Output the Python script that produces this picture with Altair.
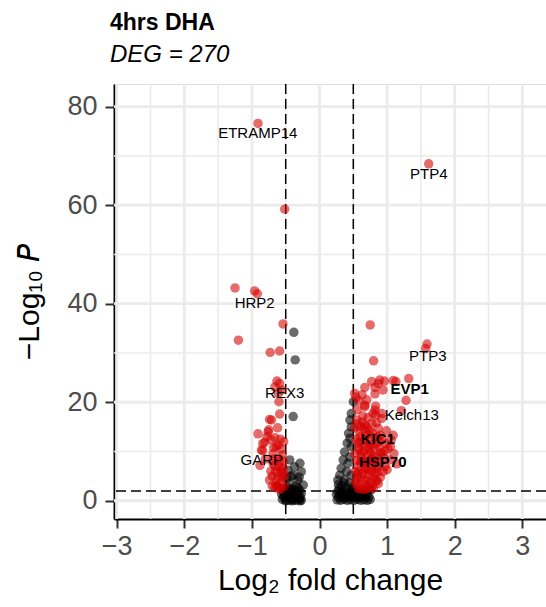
import altair as alt
import pandas as pd

# ---------------- data ----------------
# significant (red) genes: log2 fold change, -log10 P
sig_x = [
    -0.91, -0.515, -1.25, -0.96, -0.92, -0.54, -1.20, -0.73, -0.59, -0.63,
    -0.59, -0.66, -0.61, -0.60, -0.56, -0.59, -0.71, -0.74, -0.75, -0.91,
    -0.76, -0.78, -0.66, -0.81, -0.64, -0.84, -0.69, -0.61, -0.69, -0.60,
    -0.65, -0.56, -0.74, -0.63, -0.58, -0.66, -0.55, -0.54, -0.59, -0.72,
    -0.57, -0.53, -0.52, -0.70, -0.62, -0.57, -0.52, -0.55, -0.53, -0.68,
    -0.88, -0.84, -0.64, -0.61, -0.86,
    -0.58, -0.62, -0.68, -0.57, -0.62, -0.70, -0.60, -0.66, -0.72, -0.80,
    1.615, 0.75, 1.59, 1.57, 0.80, 1.32, 0.96, 0.77, 1.13, 0.89,
    1.09, 0.67, 0.82, 0.87, 0.94, 0.82, 1.28, 0.54, 0.52, 0.67,
    0.83, 1.21, 0.79, 0.92, 0.92, 0.83, 0.67, 0.82, 0.55, 0.67,
    0.77, 0.87, 0.59, 1.06, 0.67, 0.57, 1.01, 0.92, 0.62, 0.77,
    1.04, 0.87, 0.57, 0.72, 0.94, 0.62, 0.79, 0.55, 0.69, 0.87,
    0.57, 0.74, 1.14, 1.05, 0.60, 0.72, 0.82, 0.93, 0.98, 0.70,
    0.80, 0.88, 0.65, 0.75, 0.85, 0.95, 0.60, 0.68, 0.78, 0.97,
    0.53, 0.64, 0.82, 0.90, 0.70, 0.53, 0.60, 0.78, 0.66, 0.52,
    0.54, 0.52, 0.56, 0.58, 0.64, 0.72, 0.63, 0.70, 0.61, 0.74,
    0.84, 0.99, 0.90, 1.10, 0.96, 1.00, 0.84, 0.73, 0.57, 0.66,
    0.76, 0.88, 1.09, 0.59, 0.69, 0.80, 0.90, 0.63, 0.75, 0.85,
    0.56, 0.63, 0.70, 0.60, 0.68, 0.78, 0.86, 0.58, 0.66, 0.74,
    0.84, 0.55, 0.64, 0.73, 0.82, 0.90, 0.58, 0.67, 0.77, 0.86,
    0.56, 0.66, 0.75, 0.84, 0.60, 0.70, 0.80, 0.62, 0.71, 0.80,
]
sig_y = [
    76.6, 59.2, 43.2, 42.6, 42.0, 35.9, 32.6, 30.1, 30.4, 24.3,
    23.8, 23.1, 21.8, 20.1, 22.5, 17.6, 16.4, 16.5, 14.4, 13.6,
    14.0, 13.0, 12.8, 11.9, 11.0, 10.2, 9.6, 8.6, 7.6, 6.9,
    5.9, 5.6, 4.2, 4.2, 3.5, 2.7, 4.8, 6.6, 7.9, 12.4,
    10.5, 8.0, 3.0, 5.0, 3.0, 2.4, 5.2, 9.3, 12.0, 8.5,
    7.2, 11.6, 3.2, 11.3, 10.3,
    12.5, 14.8, 10.8, 6.2, 5.0, 3.0, 2.4, 7.0, 6.0, 8.5,
    68.4, 35.7, 31.8, 30.9, 28.4, 24.8, 24.3, 24.2, 24.2, 24.5,
    24.4, 23.0, 23.0, 23.8, 22.5, 21.7, 20.4, 21.0, 21.8, 19.1,
    19.2, 18.3, 17.7, 17.7, 16.7, 17.4, 19.4, 18.4, 16.4, 15.4,
    15.7, 14.7, 14.0, 12.3, 12.3, 11.7, 10.6, 9.6, 8.9, 8.6,
    8.3, 7.2, 6.9, 6.2, 5.9, 4.9, 4.5, 3.5, 3.2, 3.5,
    2.5, 2.7, 7.5, 11.0, 13.0, 13.5, 12.8, 12.6, 11.6, 11.0,
    10.6, 10.8, 10.0, 9.8, 9.0, 8.8, 7.8, 7.5, 7.2, 7.0,
    6.0, 5.6, 5.5, 4.8, 4.3, 4.0, 3.2, 3.0, 2.3, 9.5,
    12.5, 14.8, 18.5, 20.3, 17.2, 16.9, 21.5, 20.5, 15.0, 14.2,
    15.8, 14.2, 13.3, 9.6, 10.0, 6.3, 6.5, 5.3, 5.3, 14.6,
    12.0, 12.0, 13.3, 10.2, 6.6, 8.0, 9.8, 8.0, 11.4, 4.0,
    15.6, 16.0, 15.0, 12.0, 13.2, 13.8, 13.0, 10.8, 11.5, 10.5,
    11.5, 8.2, 8.0, 8.2, 8.1, 7.8, 5.9, 6.5, 6.0, 5.8,
    4.5, 4.1, 3.8, 4.2, 2.4, 2.4, 2.6, 9.6, 9.2, 9.0,
]

# not significant (black) genes
ns_x = [
    -0.38, -0.36, -0.39, -0.44, -0.29, -0.37, -0.47, -0.27, -0.39, -0.49,
    -0.32, -0.44, -0.24, -0.35, -0.42, -0.30,
    -0.55, -0.50, -0.45, -0.40, -0.35, -0.30, -0.27,
    -0.53, -0.48, -0.43, -0.38, -0.33, -0.28,
    -0.56, -0.51, -0.46, -0.41, -0.36, -0.31, -0.27,
    -0.54, -0.49, -0.44, -0.39, -0.34, -0.29,
    -0.52, -0.47, -0.42, -0.37, -0.32,
    -0.50, -0.42, -0.34, -0.29, -0.40, -0.47,
    0.50, 0.47, 0.45, 0.47, 0.43, 0.45, 0.41, 0.47, 0.37, 0.45,
    0.35, 0.42, 0.32, 0.40, 0.30, 0.47, 0.27, 0.37, 0.44, 0.33, 0.48,
    0.26, 0.31, 0.36, 0.41, 0.46, 0.51, 0.56, 0.61, 0.66, 0.71, 0.75,
    0.28, 0.33, 0.38, 0.43, 0.48, 0.53, 0.58, 0.63, 0.68, 0.73,
    0.25, 0.30, 0.35, 0.40, 0.45, 0.50, 0.55, 0.60, 0.65, 0.70,
    0.27, 0.32, 0.37, 0.42, 0.47, 0.52, 0.57, 0.62, 0.67, 0.72, 0.76,
    0.29, 0.39, 0.49, 0.28, 0.36,
]
ns_y = [
    34.2, 28.6, 17.1, 8.3, 7.6, 6.9, 6.2, 5.9, 5.2, 4.5,
    4.2, 3.5, 3.2, 3.0, 5.0, 4.8,
    0.3, 0.2, 0.1, 0.2, 0.1, 0.3, 0.1,
    0.8, 0.7, 0.9, 0.6, 0.8, 0.6,
    1.3, 1.2, 1.4, 1.1, 1.3, 1.2, 1.5,
    1.9, 1.8, 2.0, 1.7, 1.9, 2.1,
    2.5, 2.6, 2.4, 2.3, 2.6,
    0.0, 0.4, 0.5, 0.0, 0.0, 1.0,
    20.1, 17.7, 16.4, 15.0, 13.7, 12.7, 11.7, 11.0, 9.9, 8.9,
    8.3, 7.6, 6.6, 5.9, 5.2, 5.2, 4.2, 4.2, 3.6, 3.0, 2.8,
    0.2, 0.1, 0.3, 0.1, 0.2, 0.1, 0.3, 0.1, 0.2, 0.1, 0.3,
    0.7, 0.8, 0.6, 0.9, 0.7, 0.8, 0.6, 0.9, 0.7, 0.8,
    1.3, 1.2, 1.4, 1.1, 1.3, 1.2, 1.4, 1.1, 1.3, 1.5,
    1.9, 1.8, 2.0, 1.7, 1.9, 1.8, 2.0, 1.7, 1.9, 2.2, 2.2,
    2.5, 2.6, 2.4, 3.3, 3.6,
]

# gene labels
lab_text = ["ETRAMP14", "PTP4", "HRP2", "PTP3", "REX3", "EVP1",
            "Kelch13", "KIC1", "HSP70", "GARP"]
lab_x = [-0.914, 1.616, -0.959, 1.601, -0.515, 1.334, 1.364, 0.861, 0.935, -0.855]
lab_y = [74.7, 66.3, 40.2, 29.4, 21.9, 22.7, 17.4, 12.5, 7.8, 8.3]
lab_bold = [False, False, False, False, False, True, False, True, True, False]

# thresholds and grid values
fc_cut = [-0.5, 0.5]
p_cut = [2]
x_major = [-3, -2, -1, 0, 1, 2, 3]
x_minor = [-2.5, -1.5, -0.5, 0.5, 1.5, 2.5]
y_major = [0, 20, 40, 60, 80]
y_minor = [10, 30, 50, 70]

# ---------------- chart ----------------
FONT = "Liberation Sans"
xs = alt.Scale(domain=[-3.04, 3.35], nice=False, zero=False)
ys = alt.Scale(domain=[-3.7, 84.6], nice=False, zero=False)

axis_common = dict(
    grid=False, domainColor="black", domainWidth=2, tickColor="#333333",
    tickWidth=2, tickSize=9, labelFont=FONT, labelFontSize=27,
    labelColor="#4D4D4D", titleFont=FONT, titleFontSize=30,
    titleColor="black", titleFontWeight="normal", format="d",
)
X_AX = alt.Axis(values=x_major, title="Log₂ fold change",
                labelPadding=5, titlePadding=6, **axis_common)
Y_AX = alt.Axis(values=y_major, title="−Log₁₀ 𝘗",
                labelPadding=8, titlePadding=22, **axis_common)


def X(f):
    return alt.X(f, scale=xs, axis=X_AX)


def Y(f):
    return alt.Y(f, scale=ys, axis=Y_AX)


pts = pd.concat([
    pd.DataFrame({"x": ns_x, "y": ns_y, "g": "NS"}),
    pd.DataFrame({"x": sig_x, "y": sig_y, "g": "Sig"}),
], ignore_index=True)
labs = pd.DataFrame({"t": lab_text, "x": lab_x, "y": lab_y, "b": lab_bold})

grid_col = "#EBEBEB"

gx_minor = alt.Chart(pd.DataFrame({"x": x_minor})).mark_rule(
    color=grid_col, strokeWidth=1.6).encode(x=X("x:Q"))
gx_major = alt.Chart(pd.DataFrame({"x": x_major})).mark_rule(
    color=grid_col, strokeWidth=2.8).encode(x=X("x:Q"))
gy_minor = alt.Chart(pd.DataFrame({"y": y_minor})).mark_rule(
    color=grid_col, strokeWidth=1.6).encode(y=Y("y:Q"))
gy_major = alt.Chart(pd.DataFrame({"y": y_major})).mark_rule(
    color=grid_col, strokeWidth=2.8).encode(y=Y("y:Q"))

vcut = alt.Chart(pd.DataFrame({"x": fc_cut})).mark_rule(
    color="black", strokeWidth=1.5, strokeDash=[10, 5]).encode(x=X("x:Q"))
hcut = alt.Chart(pd.DataFrame({"y": p_cut})).mark_rule(
    color="black", strokeWidth=1.5, strokeDash=[10, 5]).encode(y=Y("y:Q"))

points = alt.Chart(pts).mark_circle(size=90, opacity=0.58).encode(
    x=X("x:Q"),
    y=Y("y:Q"),
    color=alt.Color("g:N", scale=alt.Scale(domain=["NS", "Sig"],
                                           range=["black", "#D40000"]),
                    legend=None),
)

text_norm = alt.Chart(labs).transform_filter("!datum.b").mark_text(
    font=FONT, fontSize=15, color="black", align="center", baseline="middle"
).encode(x=X("x:Q"), y=Y("y:Q"), text="t:N")
text_bold = alt.Chart(labs).transform_filter("datum.b").mark_text(
    font=FONT, fontSize=15, fontWeight="bold", color="black",
    align="center", baseline="middle"
).encode(x=X("x:Q"), y=Y("y:Q"), text="t:N")

chart = alt.layer(
    gx_minor, gy_minor, gx_major, gy_major, vcut, hcut, points, text_norm, text_bold
).properties(
    width=432, height=435,
    padding={"left": 114, "top": 84, "right": 0, "bottom": 88},
    autosize=alt.AutoSizeParams(type="none"),
    title=alt.Title("4hrs DHA", subtitle="DEG = 270", anchor="start",
                    frame="group", font=FONT, fontSize=23, fontWeight="bold",
                    color="black", subtitleFont=FONT, subtitleFontSize=24,
                    subtitleFontStyle="italic", subtitleColor="black",
                    subtitlePadding=8, offset=16, dx=-4),
).configure_view(stroke=None).configure(background="white")

chart.save("out.html", embed_options={"renderer": "svg", "actions": False})
